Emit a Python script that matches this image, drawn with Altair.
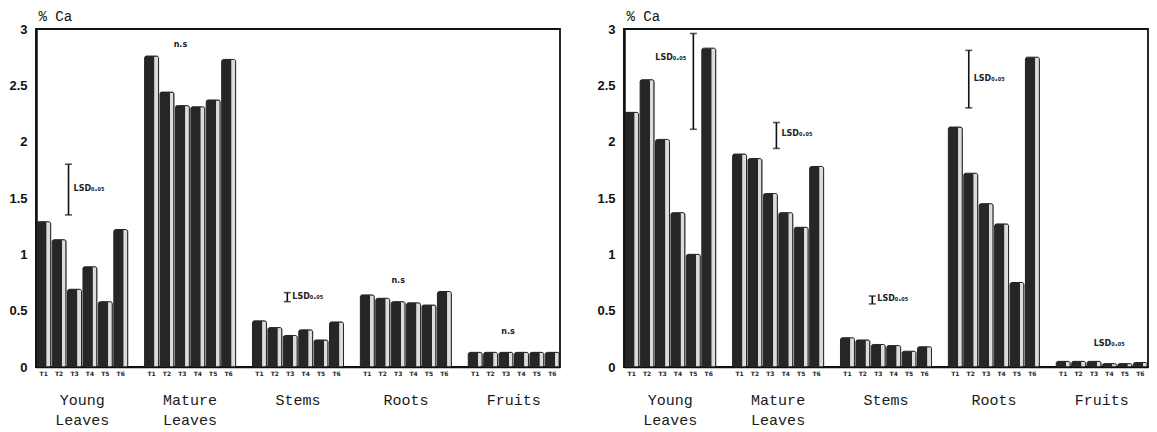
import altair as alt
import pandas as pd

groups = ["Young Leaves", "Mature Leaves", "Stems", "Roots", "Fruits"]
group_labels = ["Young\nLeaves", "Mature\nLeaves", "Stems", "Roots", "Fruits"]
treatments = ["T1", "T2", "T3", "T4", "T5", "T6"]

# Left panel (% Ca)
left_young = [1.29, 1.13, 0.69, 0.89, 0.58, 1.22]
left_mature = [2.76, 2.44, 2.32, 2.31, 2.37, 2.73]
left_stems = [0.41, 0.35, 0.28, 0.33, 0.24, 0.40]
left_roots = [0.64, 0.61, 0.58, 0.57, 0.55, 0.67]
left_fruits = [0.13, 0.13, 0.13, 0.13, 0.13, 0.13]

# Right panel (% Ca)
right_young = [2.26, 2.55, 2.02, 1.37, 1.00, 2.83]
right_mature = [1.89, 1.85, 1.54, 1.37, 1.24, 1.78]
right_stems = [0.26, 0.24, 0.20, 0.19, 0.14, 0.18]
right_roots = [2.13, 1.72, 1.45, 1.27, 0.75, 2.75]
right_fruits = [0.05, 0.05, 0.05, 0.03, 0.03, 0.04]

LSD = "LSD\u2080.\u2080\u2085"

# annotations: (group, treatment anchor, dx, lsd low, lsd high, text, text side, text y)
left_notes = [
    ("Young Leaves", "T3", -6, 1.35, 1.80, LSD, "right", 1.58),
    ("Mature Leaves", "T3", -2, None, None, "n.s", "center", 2.86),
    ("Stems", "T3", -3, 0.58, 0.66, LSD, "right", 0.62),
    ("Roots", "T3", 0, None, None, "n.s", "center", 0.76),
    ("Fruits", "T3", 2, None, None, "n.s", "center", 0.31),
]
right_notes = [
    ("Young Leaves", "T5", 0, 2.11, 2.96, LSD, "left", 2.74),
    ("Mature Leaves", "T3", 6, 1.94, 2.17, LSD, "right", 2.07),
    ("Stems", "T3", -6, 0.56, 0.63, LSD, "right", 0.60),
    ("Roots", "T2", -2, 2.30, 2.81, LSD, "right", 2.56),
    ("Fruits", "T2", 10, None, None, LSD, "right", 0.20),
]

W = 524
H = 338


def build_domain():
    dom = []
    for i, g in enumerate(groups):
        for t in treatments:
            dom.append(f"{g}|{t}")
        if i < len(groups) - 1:
            dom.append(f"gap{i}")
    return dom


DOMAIN = build_domain()
BAND = W / len(DOMAIN)


def panel(series, notes):
    rows = []
    for g, vals in zip(groups, series):
        for t, v in zip(treatments, vals):
            rows.append({"key": f"{g}|{t}", "group": g, "treat": t, "value": v})
    df = pd.DataFrame(rows)

    xscale = alt.Scale(domain=DOMAIN, paddingInner=0, paddingOuter=0)
    x_axis = alt.Axis(
        title=None,
        labelExpr="indexof(datum.value, '|') > 0 ? split(datum.value, '|')[1] : ''",
        labelAngle=0,
        ticks=False,
        domain=True,
        domainColor="#111",
        domainWidth=1.5,
        labelFont="DejaVu Sans",
        labelFontWeight="bold",
        labelFontSize=6,
        labelPadding=3,
        labelColor="#222",
    )
    y_axis = alt.Axis(
        values=[0, 0.5, 1, 1.5, 2, 2.5, 3],
        labelExpr="'' + datum.value",
        labelFont="Liberation Sans",
        labelFontWeight="bold",
        labelFontSize=13,
        labelColor="#111",
        labelPadding=9,
        ticks=False,
        grid=False,
        domainColor="#111",
        domainWidth=2.5,
        title="% Ca",
        titleAngle=0,
        titleAlign="left",
        titleBaseline="bottom",
        titleX=2,
        titleY=-6,
        titleFont="Liberation Mono",
        titleFontSize=14,
        titleFontWeight="normal",
        titleColor="#111",
    )
    x = alt.X("key:N", scale=xscale, axis=x_axis, sort=DOMAIN)
    y = alt.Y("value:Q", scale=alt.Scale(domain=[0, 3], nice=False), axis=y_axis)

    light = alt.Chart(df).mark_bar(
        size=14, fill="#dcdcdc", stroke="#111", strokeWidth=0.9,
        cornerRadiusTopLeft=2, cornerRadiusTopRight=2,
    ).encode(x=x, y=y)
    dark = alt.Chart(df).mark_bar(
        size=10, xOffset=-2, fill="#262626",
        cornerRadiusTopLeft=1.5, cornerRadiusTopRight=1.5,
    ).encode(x=alt.X("key:N", scale=xscale, sort=DOMAIN), y=alt.Y("value:Q"))

    gl = pd.DataFrame({"key": [f"{g}|T3" for g in groups], "label": group_labels})
    glayer = alt.Chart(gl).mark_text(
        dx=BAND / 2, baseline="top", align="center", lineBreak="\n",
        font="Liberation Mono", fontSize=15, lineHeight=20, color="#1a1a1a",
    ).encode(x=alt.X("key:N", scale=xscale, sort=DOMAIN), y=alt.value(H + 26), text="label:N")

    layers = [light, dark, glayer]
    for (g, t, dx, lo, hi, txt, side, ty) in notes:
        key = f"{g}|{t}"
        if lo is not None:
            rd = pd.DataFrame({"key": [key], "lo": [lo], "hi": [hi]})
            layers.append(
                alt.Chart(rd).mark_rule(xOffset=dx, strokeWidth=1.6, color="#111").encode(
                    x=alt.X("key:N", scale=xscale, sort=DOMAIN),
                    y=alt.Y("lo:Q"), y2="hi:Q",
                )
            )
            for col in ["lo", "hi"]:
                layers.append(
                    alt.Chart(rd).mark_tick(orient="horizontal", xOffset=dx, size=7,
                                            thickness=1.6, color="#111").encode(
                        x=alt.X("key:N", scale=xscale, sort=DOMAIN),
                        y=alt.Y(f"{col}:Q"),
                    )
                )
        td = pd.DataFrame({"key": [key], "ty": [ty], "txt": [txt]})
        if side == "right":
            align, tdx = "left", dx + 5
        elif side == "left":
            align, tdx = "right", dx - 7
        else:
            align, tdx = "center", dx
        layers.append(
            alt.Chart(td).mark_text(
                xOffset=tdx, align=align, baseline="middle", font="DejaVu Sans",
                fontWeight="bold", fontSize=8, color="#222",
            ).encode(
                x=alt.X("key:N", scale=xscale, sort=DOMAIN),
                y=alt.Y("ty:Q"),
                text="txt:N",
            )
        )
    return alt.layer(*layers).properties(
        width=W, height=H,
        view=alt.ViewBackground(stroke="#111", strokeWidth=1.8),
    )


left = panel([left_young, left_mature, left_stems, left_roots, left_fruits], left_notes)
right = panel([right_young, right_mature, right_stems, right_roots, right_fruits], right_notes)

chart = (
    alt.hconcat(left, right, spacing=35)
    .configure_view(stroke="#111", strokeWidth=1.8)
    .configure(background="white")
    .properties(padding=0)
)

chart.save("out.html", embed_options={"renderer": "svg", "actions": False})
